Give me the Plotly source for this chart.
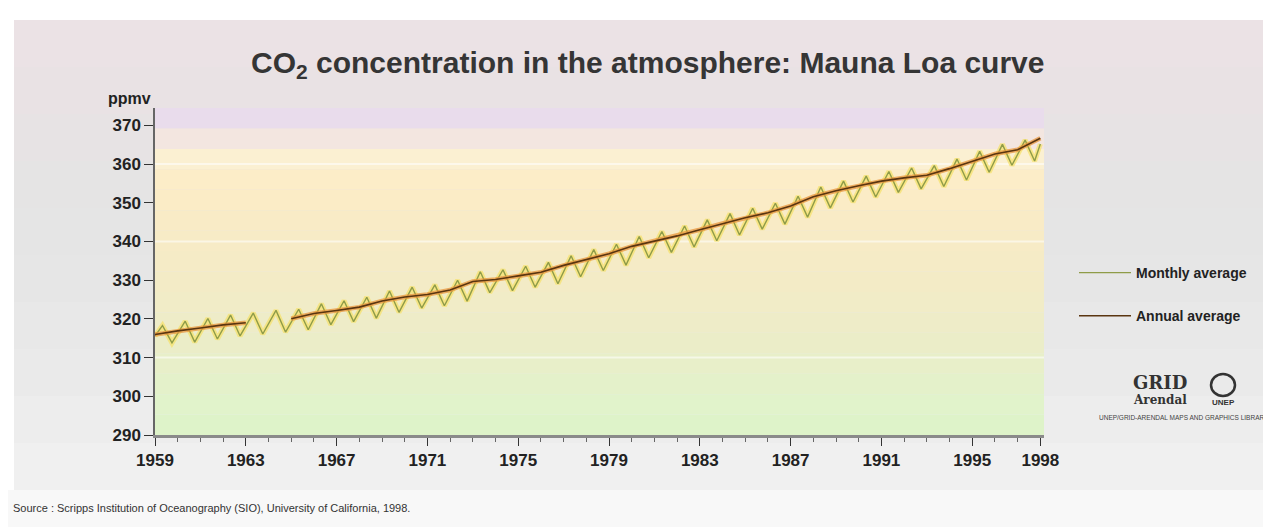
import plotly.graph_objects as go

# ---------------- data ----------------
annual_dates = ["1959-01-01", "1960-01-01", "1961-01-01", "1962-01-01", "1963-01-01",
                "1964-01-01", "1965-01-01", "1966-01-01", "1967-01-01", "1968-01-01",
                "1969-01-01", "1970-01-01", "1971-01-01", "1972-01-01", "1973-01-01",
                "1974-01-01", "1975-01-01", "1976-01-01", "1977-01-01", "1978-01-01",
                "1979-01-01", "1980-01-01", "1981-01-01", "1982-01-01", "1983-01-01",
                "1984-01-01", "1985-01-01", "1986-01-01", "1987-01-01", "1988-01-01",
                "1989-01-01", "1990-01-01", "1991-01-01", "1992-01-01", "1993-01-01",
                "1994-01-01", "1995-01-01", "1996-01-01", "1997-01-01", "1998-01-01"]
annual_ppmv = [315.98, 316.91, 317.64, 318.45, 318.99, None, 320.04, 321.38, 322.16, 323.04,
               324.62, 325.68, 326.32, 327.45, 329.68, 330.18, 331.11, 332.04, 333.83, 335.40,
               336.84, 338.75, 340.11, 341.45, 343.05, 344.65, 346.12, 347.42, 349.19, 351.57,
               353.12, 354.39, 355.61, 356.45, 357.10, 358.83, 360.82, 362.61, 363.73, 366.70]

monthly_dates = ["1959-01", "1959-05", "1959-10", "1960-05", "1960-10", "1961-05", "1961-10",
                 "1962-05", "1962-10", "1963-05", "1963-10", "1964-05", "1964-10", "1965-05",
                 "1965-10", "1966-05", "1966-10", "1967-05", "1967-10", "1968-05", "1968-10",
                 "1969-05", "1969-10", "1970-05", "1970-10", "1971-05", "1971-10", "1972-05",
                 "1972-10", "1973-05", "1973-10", "1974-05", "1974-10", "1975-05", "1975-10",
                 "1976-05", "1976-10", "1977-05", "1977-10", "1978-05", "1978-10", "1979-05",
                 "1979-10", "1980-05", "1980-10", "1981-05", "1981-10", "1982-05", "1982-10",
                 "1983-05", "1983-10", "1984-05", "1984-10", "1985-05", "1985-10", "1986-05",
                 "1986-10", "1987-05", "1987-10", "1988-05", "1988-10", "1989-05", "1989-10",
                 "1990-05", "1990-10", "1991-05", "1991-10", "1992-05", "1992-10", "1993-05",
                 "1993-10", "1994-05", "1994-10", "1995-05", "1995-10", "1996-05", "1996-10",
                 "1997-05", "1997-10", "1998-01"]
monthly_ppmv = [315.6, 318.3, 313.8, 319.4, 314.0, 320.1, 314.8,
                321.0, 315.6, 321.5, 316.1, 322.2, 316.6, 322.5,
                317.2, 323.9, 318.5, 324.7, 319.3, 325.6, 320.2,
                327.2, 321.7, 328.2, 322.8, 328.8, 323.4, 330.0,
                324.6, 332.2, 326.8, 332.7, 327.3, 333.6, 328.2,
                334.6, 329.1, 336.3, 330.9, 337.9, 332.5, 339.3,
                333.9, 341.3, 335.8, 342.6, 337.2, 344.0, 338.6,
                345.6, 340.2, 347.2, 341.7, 348.6, 343.2, 349.9,
                344.5, 351.7, 346.3, 354.1, 348.7, 355.6, 350.2,
                356.9, 351.5, 358.1, 352.7, 359.0, 353.6, 359.6,
                354.2, 361.3, 355.9, 363.3, 357.9, 365.1, 359.7,
                366.2, 360.8, 365.2]

x_tick_dates = ["1959-01-01", "1963-01-01", "1967-01-01", "1971-01-01", "1975-01-01",
                "1979-01-01", "1983-01-01", "1987-01-01", "1991-01-01", "1995-01-01",
                "1998-01-01"]
x_tick_labels = ["1959", "1963", "1967", "1971", "1975", "1979", "1983", "1987", "1991",
                 "1995", "1998"]
y_ticks = [290, 300, 310, 320, 330, 340, 350, 360, 370]

# ---------------- figure ----------------
W, H = 1271, 527
L, R, T, B = 147, 235, 100, 100
FONT = "Liberation Sans, Arial, sans-serif"

def px(xp):
    return (xp - L) / (W - L - R)

def py(yp):
    return 1 - (yp - T) / (H - T - B)

fig = go.Figure()

fig.add_trace(go.Scatter(x=monthly_dates, y=monthly_ppmv, mode="lines",
                         line=dict(color="rgba(245,225,110,0.75)", width=5),
                         showlegend=False, hoverinfo="skip", legendgroup="m"))
fig.add_trace(go.Scatter(x=monthly_dates, y=monthly_ppmv, mode="lines",
                         name="<b>Monthly average</b>", legendgroup="m",
                         line=dict(color="#8f9c48", width=1.4)))
fig.add_trace(go.Scatter(x=annual_dates, y=annual_ppmv, mode="lines",
                         line=dict(color="rgba(232,150,60,0.75)", width=4.5),
                         showlegend=False, hoverinfo="skip", legendgroup="a"))
fig.add_trace(go.Scatter(x=annual_dates, y=annual_ppmv, mode="lines",
                         name="<b>Annual average</b>", legendgroup="a",
                         line=dict(color="#5a3510", width=1.6)))

shapes = []
band_cols = ["#ebe2e5", "#e9e2e4", "#e7e3e4", "#e5e4e4", "#e5e5e5", "#e6e6e6",
             "#e8e8e8", "#eaeaea", "#ededed", "#f0f0f0"]
y0 = 12
band_h = (482 - 12) / len(band_cols)
for i, c in enumerate(band_cols):
    shapes.append(dict(type="rect", xref="paper", yref="paper",
                       x0=px(6), x1=px(W),
                       y0=py(y0 + (i + 1) * band_h), y1=py(y0 + i * band_h),
                       fillcolor=c, line=dict(width=0), layer="below"))
shapes.append(dict(type="rect", xref="paper", yref="paper",
                   x0=px(0), x1=px(W), y0=py(527), y1=py(482),
                   fillcolor="#f8f8f8", line=dict(width=0), layer="below"))

plot_cols = ["#e9dcec", "#f3e6e0", "#fbf0d2", "#fcedc8", "#fbecc6", "#f9ebc6",
             "#f7ebc6", "#f5ebc6", "#f3ebc6", "#f1ecc7", "#eeecc8", "#ebedc8",
             "#e8efc9", "#e4f1ca", "#e1f3cb", "#def3c9"]
n = len(plot_cols)
for i, c in enumerate(plot_cols):
    shapes.append(dict(type="rect", xref="paper", yref="paper", x0=0, x1=1,
                       y0=1 - (i + 1) / n, y1=1 - i / n,
                       fillcolor=c, line=dict(width=0), layer="below"))
for yv in [310, 340, 360]:
    shapes.append(dict(type="line", xref="paper", yref="y", x0=0, x1=1, y0=yv, y1=yv,
                       line=dict(color="rgba(255,255,255,0.55)", width=2), layer="below"))
# UNEP emblem
shapes.append(dict(type="circle", xref="paper", yref="paper",
                   x0=px(1203), x1=px(1227), y0=py(388), y1=py(366),
                   line=dict(color="#333", width=2.5), fillcolor="rgba(0,0,0,0)"))

annotations = [
    dict(text="<b>CO<sub>2</sub> concentration in the atmosphere: Mauna Loa curve</b>",
         xref="paper", yref="paper", x=px(640), y=py(56), showarrow=False,
         font=dict(family=FONT, size=30, color="#353535"),
         xanchor="center", yanchor="middle"),
    dict(text="<b>ppmv</b>", xref="paper", yref="paper", x=px(145), y=py(90),
         showarrow=False, xanchor="right", yanchor="middle",
         font=dict(family=FONT, size=16, color="#222")),
    dict(text="Source : Scripps Institution of Oceanography (SIO), University of California, 1998.",
         xref="paper", yref="paper", x=px(3), y=py(500), showarrow=False,
         xanchor="left", yanchor="middle",
         font=dict(family=FONT, size=11, color="#333")),
    dict(text="<b>GRID</b>", xref="paper", yref="paper", x=px(1152), y=py(374),
         showarrow=False, xanchor="center", yanchor="middle",
         font=dict(family="DejaVu Serif", size=18, color="#333")),
    dict(text="<b>Arendal</b>", xref="paper", yref="paper", x=px(1152), y=py(392),
         showarrow=False, xanchor="center", yanchor="middle",
         font=dict(family="DejaVu Serif", size=12, color="#333")),
    dict(text="<b>UNEP</b>", xref="paper", yref="paper", x=px(1215), y=py(394),
         showarrow=False, xanchor="center", yanchor="middle",
         font=dict(family=FONT, size=8, color="#333")),
    dict(text="UNEP/GRID-ARENDAL MAPS AND GRAPHICS LIBRARY", xref="paper", yref="paper",
         x=px(1176), y=py(409), showarrow=False, xanchor="center", yanchor="middle",
         font=dict(family=FONT, size=6.5, color="#444")),
]

fig.update_layout(
    width=W, height=H,
    margin=dict(l=L, r=R, t=T, b=B, pad=0),
    paper_bgcolor="white", plot_bgcolor="rgba(0,0,0,0)",
    shapes=shapes, annotations=annotations,
    showlegend=True,
    legend=dict(x=px(1066), y=py(249), xanchor="left", yanchor="top",
                bgcolor="rgba(0,0,0,0)", tracegroupgap=22, traceorder="grouped",
                font=dict(family=FONT, size=14, color="#222"),
                itemwidth=52),
    xaxis=dict(type="date", range=["1959-01-01", "1998-03-01"],
               tickvals=x_tick_dates, ticktext=x_tick_labels,
               tickfont=dict(family=FONT, size=17, color="#222", weight="bold"),
               ticks="outside", ticklen=8, tickcolor="#333", tickwidth=1,
               showline=True, linecolor="#8a8a8a", linewidth=3,
               showgrid=False, zeroline=False,
               minor=dict(dtick="M12", ticks="outside", ticklen=4, tickcolor="#666")),
    yaxis=dict(range=[290, 374.5], tickvals=y_ticks,
               tickfont=dict(family=FONT, size=17, color="#222", weight="bold"),
               ticks="outside", ticklen=9, tickcolor="#333",
               showline=True, linecolor="#666", linewidth=1.5,
               showgrid=False, zeroline=False),
)

fig.write_html("out.html")
